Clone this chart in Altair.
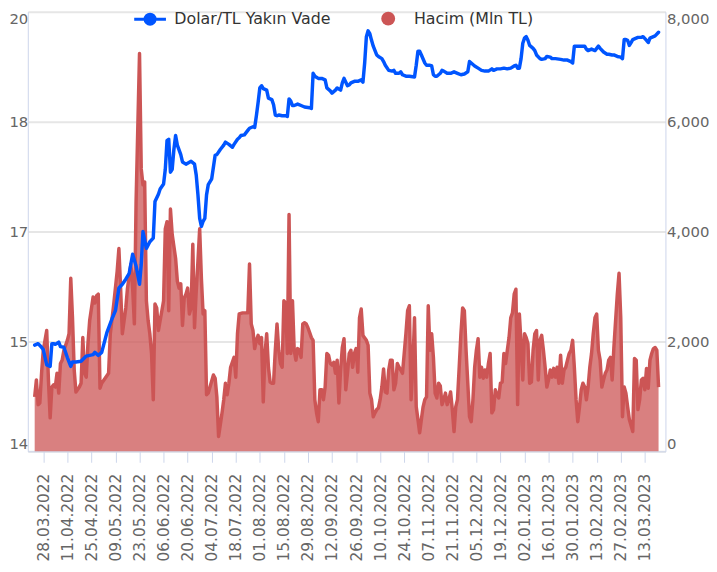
import altair as alt
import pandas as pd

FONT = "DejaVu Sans"
BLUE = "#0055ff"
RED = "#cc5555"
BLUE_NAME = "Dolar/TL Yakın Vade"
RED_NAME = "Hacim (Mln TL)"

# ---- Dolar/TL near-term futures (left axis) ----
blue_dates = [
    "2022-03-23", "2022-03-25", "2022-03-27", "2022-03-28", "2022-03-30", "2022-04-01", "2022-04-02", "2022-04-03",
    "2022-04-04", "2022-04-06", "2022-04-07", "2022-04-09", "2022-04-11", "2022-04-13", "2022-04-14", "2022-04-16",
    "2022-04-19", "2022-04-22", "2022-04-24", "2022-04-26", "2022-04-27", "2022-04-29", "2022-05-01", "2022-05-04",
    "2022-05-07", "2022-05-09", "2022-05-11", "2022-05-13", "2022-05-15", "2022-05-17", "2022-05-19", "2022-05-21",
    "2022-05-23", "2022-05-24", "2022-05-25", "2022-05-27", "2022-05-29", "2022-05-31", "2022-06-01", "2022-06-03",
    "2022-06-04", "2022-06-06", "2022-06-07", "2022-06-08", "2022-06-09", "2022-06-10", "2022-06-11", "2022-06-12",
    "2022-06-13", "2022-06-14", "2022-06-16", "2022-06-17", "2022-06-19", "2022-06-22", "2022-06-24", "2022-06-25",
    "2022-06-26", "2022-06-27", "2022-06-28", "2022-06-29", "2022-06-30", "2022-07-01", "2022-07-02", "2022-07-04",
    "2022-07-06", "2022-07-07", "2022-07-09", "2022-07-11", "2022-07-12", "2022-07-14", "2022-07-16", "2022-07-17",
    "2022-07-19", "2022-07-20", "2022-07-21", "2022-07-23", "2022-07-25", "2022-07-26", "2022-07-28", "2022-07-29",
    "2022-07-30", "2022-07-31", "2022-08-01", "2022-08-02", "2022-08-03", "2022-08-05", "2022-08-06", "2022-08-08",
    "2022-08-09", "2022-08-10", "2022-08-11", "2022-08-12", "2022-08-14", "2022-08-16", "2022-08-17", "2022-08-18",
    "2022-08-19", "2022-08-20", "2022-08-21", "2022-08-23", "2022-08-25", "2022-08-27", "2022-08-30", "2022-08-31",
    "2022-09-01", "2022-09-02", "2022-09-04", "2022-09-06", "2022-09-08", "2022-09-09", "2022-09-11", "2022-09-12",
    "2022-09-14", "2022-09-15", "2022-09-17", "2022-09-18", "2022-09-19", "2022-09-21", "2022-09-22", "2022-09-23",
    "2022-09-25", "2022-09-27", "2022-09-29", "2022-09-30", "2022-10-01", "2022-10-02", "2022-10-03", "2022-10-04",
    "2022-10-05", "2022-10-06", "2022-10-08", "2022-10-09", "2022-10-11", "2022-10-12", "2022-10-13", "2022-10-15",
    "2022-10-17", "2022-10-18", "2022-10-19", "2022-10-21", "2022-10-22", "2022-10-23", "2022-10-25", "2022-10-27",
    "2022-10-30", "2022-10-31", "2022-11-01", "2022-11-02", "2022-11-03", "2022-11-05", "2022-11-06", "2022-11-08",
    "2022-11-09", "2022-11-10", "2022-11-11", "2022-11-12", "2022-11-14", "2022-11-15", "2022-11-16", "2022-11-18",
    "2022-11-20", "2022-11-22", "2022-11-24", "2022-11-26", "2022-11-28", "2022-11-30", "2022-12-01", "2022-12-02",
    "2022-12-04", "2022-12-06", "2022-12-08", "2022-12-10", "2022-12-12", "2022-12-14", "2022-12-15", "2022-12-17",
    "2022-12-19", "2022-12-21", "2022-12-23", "2022-12-25", "2022-12-27", "2022-12-28", "2022-12-29", "2022-12-30",
    "2022-12-31", "2023-01-01", "2023-01-02", "2023-01-03", "2023-01-04", "2023-01-05", "2023-01-07", "2023-01-08",
    "2023-01-09", "2023-01-11", "2023-01-12", "2023-01-14", "2023-01-15", "2023-01-17", "2023-01-18", "2023-01-20",
    "2023-01-23", "2023-01-25", "2023-01-27", "2023-01-29", "2023-01-30", "2023-01-31", "2023-02-01", "2023-02-03",
    "2023-02-04", "2023-02-06", "2023-02-07", "2023-02-08", "2023-02-10", "2023-02-12", "2023-02-14", "2023-02-15",
    "2023-02-17", "2023-02-19", "2023-02-20", "2023-02-22", "2023-02-23", "2023-02-25", "2023-02-27", "2023-02-28",
    "2023-03-01", "2023-03-02", "2023-03-03", "2023-03-04", "2023-03-05", "2023-03-06", "2023-03-08", "2023-03-09",
    "2023-03-11", "2023-03-12", "2023-03-14", "2023-03-15", "2023-03-16", "2023-03-17", "2023-03-18", "2023-03-19",
    "2023-03-21",
]
blue_vals = [
    15.45, 15.47, 15.42, 15.39, 15.18, 15.16, 15.47, 15.47,
    15.46, 15.49, 15.43, 15.42, 15.28, 15.16, 15.22, 15.22,
    15.23, 15.30, 15.31, 15.32, 15.35, 15.31, 15.35, 15.62,
    15.81, 15.92, 16.23, 16.28, 16.35, 16.43, 16.69, 16.53,
    16.28, 16.55, 17.00, 16.77, 16.86, 16.91, 17.41, 17.51,
    17.58, 17.65, 17.85, 18.24, 18.26, 17.81, 17.85, 18.12,
    18.31, 18.18, 18.05, 17.95, 17.92, 17.96, 17.92, 17.77,
    17.50, 17.18, 17.07, 17.14, 17.18, 17.50, 17.64, 17.72,
    18.04, 18.05, 18.12, 18.18, 18.22, 18.19, 18.15, 18.19,
    18.26, 18.28, 18.31, 18.32, 18.38, 18.41, 18.43, 18.42,
    18.58, 18.76, 18.96, 18.99, 18.95, 18.93, 18.82, 18.80,
    18.73, 18.59, 18.58, 18.59, 18.58, 18.58, 18.57, 18.81,
    18.78, 18.72, 18.72, 18.74, 18.72, 18.70, 18.69, 18.68,
    19.16, 19.12, 19.09, 19.09, 19.07, 18.96, 18.92, 18.89,
    18.93, 18.96, 18.93, 19.03, 19.09, 18.99, 19.00, 19.03,
    19.05, 19.05, 19.07, 19.04, 19.30, 19.66, 19.74, 19.70,
    19.61, 19.53, 19.41, 19.39, 19.36, 19.32, 19.27, 19.20,
    19.19, 19.20, 19.16, 19.16, 19.18, 19.14, 19.12, 19.12,
    19.11, 19.27, 19.46, 19.46, 19.41, 19.30, 19.27, 19.27,
    19.26, 19.14, 19.12, 19.12, 19.16, 19.20, 19.19, 19.16,
    19.16, 19.18, 19.16, 19.14, 19.15, 19.18, 19.32, 19.30,
    19.26, 19.23, 19.20, 19.19, 19.19, 19.22, 19.20, 19.22,
    19.22, 19.23, 19.22, 19.23, 19.26, 19.27, 19.23, 19.23,
    19.36, 19.57, 19.64, 19.66, 19.61, 19.54, 19.50, 19.47,
    19.41, 19.36, 19.35, 19.36, 19.39, 19.38, 19.36, 19.36,
    19.35, 19.34, 19.34, 19.32, 19.30, 19.53, 19.53, 19.53,
    19.53, 19.53, 19.49, 19.47, 19.49, 19.47, 19.53, 19.50,
    19.45, 19.42, 19.42, 19.41, 19.41, 19.39, 19.38, 19.36,
    19.62, 19.62, 19.61, 19.54, 19.58, 19.62, 19.64, 19.65,
    19.65, 19.66, 19.61, 19.58, 19.64, 19.65, 19.66, 19.67,
    19.72,
]

# ---- Volume, million TL (right axis) ----
red_dates = [
    "2022-03-23", "2022-03-24", "2022-03-25", "2022-03-26", "2022-03-27", "2022-03-28", "2022-03-30", "2022-03-31",
    "2022-04-01", "2022-04-02", "2022-04-03", "2022-04-04", "2022-04-05", "2022-04-06", "2022-04-07", "2022-04-08",
    "2022-04-09", "2022-04-11", "2022-04-12", "2022-04-13", "2022-04-14", "2022-04-15", "2022-04-16", "2022-04-18",
    "2022-04-19", "2022-04-20", "2022-04-21", "2022-04-22", "2022-04-23", "2022-04-24", "2022-04-26", "2022-04-27",
    "2022-04-28", "2022-04-29", "2022-04-30", "2022-05-01", "2022-05-03", "2022-05-05", "2022-05-06", "2022-05-08",
    "2022-05-10", "2022-05-11", "2022-05-12", "2022-05-13", "2022-05-15", "2022-05-16", "2022-05-18", "2022-05-19",
    "2022-05-20", "2022-05-21", "2022-05-23", "2022-05-24", "2022-05-25", "2022-05-26", "2022-05-27", "2022-05-28",
    "2022-05-29", "2022-05-30", "2022-05-31", "2022-06-01", "2022-06-02", "2022-06-03", "2022-06-04", "2022-06-05",
    "2022-06-06", "2022-06-07", "2022-06-08", "2022-06-09", "2022-06-10", "2022-06-11", "2022-06-13", "2022-06-14",
    "2022-06-15", "2022-06-16", "2022-06-17", "2022-06-18", "2022-06-19", "2022-06-20", "2022-06-21", "2022-06-22",
    "2022-06-23", "2022-06-24", "2022-06-25", "2022-06-26", "2022-06-27", "2022-06-28", "2022-06-29", "2022-06-30",
    "2022-07-01", "2022-07-02", "2022-07-03", "2022-07-05", "2022-07-06", "2022-07-07", "2022-07-08", "2022-07-10",
    "2022-07-11", "2022-07-12", "2022-07-13", "2022-07-14", "2022-07-15", "2022-07-17", "2022-07-18", "2022-07-19",
    "2022-07-20", "2022-07-22", "2022-07-25", "2022-07-26", "2022-07-27", "2022-07-28", "2022-07-29", "2022-07-30",
    "2022-07-31", "2022-08-01", "2022-08-02", "2022-08-03", "2022-08-04", "2022-08-05", "2022-08-06", "2022-08-07",
    "2022-08-08", "2022-08-09", "2022-08-10", "2022-08-11", "2022-08-12", "2022-08-13", "2022-08-14", "2022-08-15",
    "2022-08-16", "2022-08-17", "2022-08-18", "2022-08-19", "2022-08-20", "2022-08-21", "2022-08-22", "2022-08-23",
    "2022-08-24", "2022-08-25", "2022-08-26", "2022-08-27", "2022-08-28", "2022-08-29", "2022-08-30", "2022-08-31",
    "2022-09-01", "2022-09-02", "2022-09-03", "2022-09-04", "2022-09-05", "2022-09-06", "2022-09-07", "2022-09-08",
    "2022-09-09", "2022-09-10", "2022-09-11", "2022-09-12", "2022-09-13", "2022-09-14", "2022-09-15", "2022-09-16",
    "2022-09-17", "2022-09-18", "2022-09-19", "2022-09-20", "2022-09-21", "2022-09-22", "2022-09-23", "2022-09-24",
    "2022-09-25", "2022-09-26", "2022-09-27", "2022-09-28", "2022-09-29", "2022-09-30", "2022-10-02", "2022-10-03",
    "2022-10-04", "2022-10-05", "2022-10-06", "2022-10-07", "2022-10-08", "2022-10-09", "2022-10-10", "2022-10-11",
    "2022-10-12", "2022-10-13", "2022-10-14", "2022-10-15", "2022-10-16", "2022-10-17", "2022-10-18", "2022-10-19",
    "2022-10-20", "2022-10-21", "2022-10-22", "2022-10-23", "2022-10-24", "2022-10-25", "2022-10-26", "2022-10-27",
    "2022-10-28", "2022-10-29", "2022-10-30", "2022-10-31", "2022-11-01", "2022-11-02", "2022-11-03", "2022-11-04",
    "2022-11-05", "2022-11-06", "2022-11-07", "2022-11-08", "2022-11-09", "2022-11-10", "2022-11-11", "2022-11-12",
    "2022-11-13", "2022-11-14", "2022-11-15", "2022-11-16", "2022-11-17", "2022-11-18", "2022-11-19", "2022-11-20",
    "2022-11-21", "2022-11-22", "2022-11-23", "2022-11-24", "2022-11-25", "2022-11-26", "2022-11-27", "2022-11-28",
    "2022-11-29", "2022-11-30", "2022-12-01", "2022-12-02", "2022-12-03", "2022-12-04", "2022-12-05", "2022-12-06",
    "2022-12-07", "2022-12-08", "2022-12-09", "2022-12-10", "2022-12-11", "2022-12-12", "2022-12-13", "2022-12-14",
    "2022-12-15", "2022-12-16", "2022-12-17", "2022-12-18", "2022-12-19", "2022-12-20", "2022-12-21", "2022-12-22",
    "2022-12-23", "2022-12-24", "2022-12-25", "2022-12-26", "2022-12-27", "2022-12-28", "2022-12-29", "2022-12-30",
    "2022-12-31", "2023-01-01", "2023-01-02", "2023-01-03", "2023-01-04", "2023-01-05", "2023-01-06", "2023-01-07",
    "2023-01-08", "2023-01-09", "2023-01-10", "2023-01-11", "2023-01-12", "2023-01-13", "2023-01-14", "2023-01-15",
    "2023-01-16", "2023-01-17", "2023-01-18", "2023-01-19", "2023-01-20", "2023-01-21", "2023-01-22", "2023-01-23",
    "2023-01-24", "2023-01-25", "2023-01-26", "2023-01-27", "2023-01-28", "2023-01-29", "2023-01-30", "2023-01-31",
    "2023-02-01", "2023-02-02", "2023-02-03", "2023-02-04", "2023-02-05", "2023-02-06", "2023-02-07", "2023-02-08",
    "2023-02-09", "2023-02-10", "2023-02-11", "2023-02-12", "2023-02-13", "2023-02-14", "2023-02-15", "2023-02-16",
    "2023-02-17", "2023-02-18", "2023-02-19", "2023-02-20", "2023-02-21", "2023-02-22", "2023-02-23", "2023-02-24",
    "2023-02-25", "2023-02-26", "2023-02-27", "2023-02-28", "2023-03-01", "2023-03-02", "2023-03-03", "2023-03-04",
    "2023-03-06", "2023-03-07", "2023-03-08", "2023-03-09", "2023-03-10", "2023-03-11", "2023-03-12", "2023-03-13",
    "2023-03-14", "2023-03-15", "2023-03-16", "2023-03-17", "2023-03-18", "2023-03-19", "2023-03-20", "2023-03-21",
]
red_vals = [
    990, 1300, 850, 880, 1420, 1840, 2200, 1300,
    610, 1170, 1210, 1170, 1420, 1060, 1600, 1660,
    1840, 2020, 2140, 3150, 2430, 1480, 1080, 1170,
    1240, 2070, 1420, 1350, 1960, 2380, 2810, 2700,
    2830, 2860, 1150, 1240, 1330, 1420, 2140, 2680,
    3280, 3690, 2970, 2140, 2610, 2970, 3410, 2970,
    2320, 4540, 7240, 5140, 4850, 4900, 2740, 2380,
    2140, 1780, 940, 2680, 2610, 2200, 2380, 2560,
    2740, 4050, 4180, 2560, 4410, 3950, 3510, 3100,
    2970, 3050, 2290, 2790, 2860, 2970, 2500, 2610,
    3770, 2250, 2920, 3460, 4050, 3150, 2500, 2560,
    1030, 1060, 1170, 1390, 1330, 990, 270, 700,
    940, 1240, 1030, 1240, 1530, 1710, 1350, 2140,
    2500, 2520, 2520, 3410, 2320, 2200, 1870, 2020,
    2110, 1960, 2070, 900, 1780, 2140, 1530, 1260,
    1240, 1240, 1840, 2320, 1840, 1600, 1530, 2740,
    2700, 1780, 4310, 1780, 2740, 1840, 1660, 1870,
    1840, 1710, 2320, 2340, 2320, 2250, 2160, 2070,
    2020, 940, 700, 540, 1120, 1120, 940, 1170,
    1780, 1750, 1600, 1570, 1620, 1420, 1660, 880,
    1480, 1890, 2050, 1120, 1420, 1780, 1840, 1530,
    1780, 1870, 1440, 2430, 2590, 2110, 2020, 1930,
    1060, 940, 630, 700, 760, 790, 940, 1170,
    1500, 1080, 1060, 1480, 1660, 1660, 1120, 1240,
    1600, 1530, 1480, 1420, 1780, 2140, 2560, 2650,
    940, 1530, 2430, 810, 580, 340, 580, 810,
    940, 990, 2650, 1840, 2140, 1710, 1060, 970,
    1240, 1190, 850, 940, 1060, 850, 940, 1080,
    760, 360, 810, 940, 1530, 2140, 2610, 2560,
    1840, 1240, 630, 540, 940, 1530, 1840, 2050,
    1350, 1530, 1330, 1480, 1350, 1600, 1780, 700,
    760, 1120, 1030, 970, 1240, 1260, 1780, 1600,
    1840, 2070, 2430, 2520, 2860, 2950, 850, 2500,
    1960, 1300, 2140, 2070, 1960, 1240, 1260, 1840,
    2140, 2200, 1300, 2020, 2110, 1840, 1530, 1170,
    1300, 1480, 1350, 1510, 1350, 1530, 1240, 1750,
    1240, 1480, 1530, 1660, 1780, 1840, 2020, 1530,
    940, 540, 810, 1120, 1240, 1170, 940, 1170,
    1530, 1780, 2140, 2430, 2500, 1840, 1660, 1170,
    1300, 1420, 1480, 1660, 1710, 1300, 1890, 2380,
    2860, 3240, 2430, 630, 1170, 1060, 810, 580,
    360, 1690, 1660, 760, 940, 1300, 1330, 1120,
    1510, 1150, 1660, 1780, 1870, 1890, 1840, 1170,
]

# ---- axis ticks / labels ----
x_tick_labels = [
    "28.03.2022", "11.04.2022", "25.04.2022", "09.05.2022", "23.05.2022", "06.06.2022", "20.06.2022",
    "04.07.2022", "18.07.2022", "01.08.2022", "15.08.2022", "29.08.2022", "12.09.2022", "26.09.2022",
    "10.10.2022", "24.10.2022", "07.11.2022", "21.11.2022", "05.12.2022", "19.12.2022", "02.01.2023",
    "16.01.2023", "30.01.2023", "13.02.2023", "27.02.2023", "13.03.2023",
]
x_domain = ["19.03.2022", "25.03.2023"]
left_ticks = [14, 15.5, 17, 18.5, 20]
left_domain = [14, 20]
right_ticks = [0, 2000, 4000, 6000, 8000]
right_domain = [0, 8000]


def to_dt(s):
    d, m, y = (int(p) for p in s.split("."))
    return alt.DateTime(year=y, month=m, date=d, utc=True)


blue_df = pd.DataFrame({"date": blue_dates, "value": blue_vals, "series": BLUE_NAME})
red_df = pd.DataFrame({"date": red_dates, "value": red_vals, "series": RED_NAME})

x_enc = alt.X(
    "date:T",
    scale=alt.Scale(type="utc", domain=[to_dt(s) for s in x_domain]),
    axis=alt.Axis(
        values=[to_dt(s) for s in x_tick_labels],
        labelExpr="utcFormat(datum.value, '%d.%m.%Y')",
        labelAngle=270, labelAlign="right", labelBaseline="middle",
        labelFont=FONT, labelFontSize=15.5, labelColor="#666666",
        labelPadding=11, labelOverlap=False,
        ticks=True, tickSize=11, tickColor="#ccd6eb", tickWidth=1,
        domain=True, domainColor="#ccd6eb", domainWidth=1,
        grid=False, title=None,
    ),
)

red_area = alt.Chart(red_df).mark_area(
    fillOpacity=0.75,
    line={"strokeWidth": 3.5, "strokeJoin": "round"},
).encode(
    x=x_enc,
    y=alt.Y(
        "value:Q", stack=None,
        scale=alt.Scale(domain=right_domain, nice=False, zero=True),
        axis=alt.Axis(
            orient="right", values=right_ticks, format=",d",
            labelFont=FONT, labelFontSize=15, labelColor="#666666", labelPadding=1,
            labelFlush=True,
            ticks=False, tickSize=0, domain=True, domainColor="#ccd6eb", domainWidth=1,
            grid=False, title=None,
        ),
    ),
    color=alt.Color(
        "series:N",
        scale=alt.Scale(domain=[RED_NAME], range=[RED]),
        legend=alt.Legend(
            orient="none", legendX=356, legendY=-1, padding=0, title=None,
            symbolType="circle", symbolSize=196, symbolFillColor=RED,
            symbolStrokeWidth=0, symbolOpacity=1,
            labelFont=FONT, labelFontSize=16, labelColor="#333333", labelOffset=18,
        ),
    ),
)

BLUE_SYMBOL = "M-2.29,0L2.29,0M-0.72,0A0.72,0.72,0,1,1,0.72,0A0.72,0.72,0,1,1,-0.72,0Z"

blue_line = alt.Chart(blue_df).mark_line(
    strokeWidth=3.5, strokeJoin="round", strokeCap="round"
).encode(
    x=x_enc,
    y=alt.Y(
        "value:Q",
        scale=alt.Scale(domain=left_domain, nice=False, zero=False),
        axis=alt.Axis(
            orient="left", values=left_ticks, labelExpr="floor(datum.value)",
            labelFont=FONT, labelFontSize=15, labelColor="#666666", labelPadding=0,
            labelFlush=True,
            ticks=False, tickSize=0, domain=True, domainColor="#ccd6eb", domainWidth=1,
            grid=True, gridColor="#e6e6e6", gridWidth=2, title=None,
        ),
    ),
    color=alt.Color(
        "series:N",
        scale=alt.Scale(domain=[BLUE_NAME], range=[BLUE]),
        legend=alt.Legend(
            orient="none", legendX=115, legendY=-1, padding=0, title=None,
            symbolType=BLUE_SYMBOL, symbolSize=196, symbolFillColor=BLUE,
            symbolStrokeColor=BLUE, symbolStrokeWidth=3, symbolOpacity=1,
            labelFont=FONT, labelFontSize=16, labelColor="#333333", labelOffset=16,
        ),
    ),
)

chart = alt.layer(red_area, blue_line).resolve_scale(
    y="independent", color="independent"
).properties(
    width=644, height=444,
    padding={"left": 0, "top": 0, "right": 0, "bottom": 0},
    background="white",
).configure_view(strokeWidth=0)

chart.save("out.html", embed_options={"renderer": "svg", "actions": False})
